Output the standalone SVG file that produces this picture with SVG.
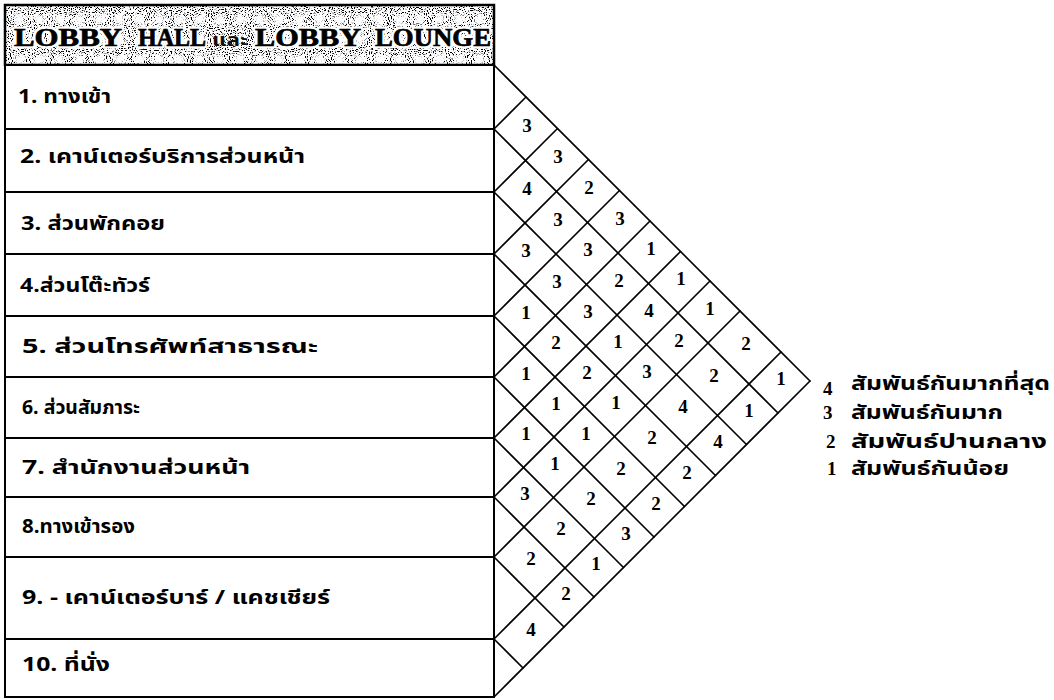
<svg xmlns="http://www.w3.org/2000/svg" width="1054" height="700" viewBox="0 0 1054 700">
<defs>
<style>
.lbl{font-family:"Noto Sans Thai","Noto Serif Thai","Tlwg Typo","Garuda","Loma","DejaVu Sans",sans-serif;font-weight:bold;font-size:20px;fill:#000}
.lg{font-size:19px}
.num{font-family:"Liberation Serif","DejaVu Serif",serif;font-weight:bold;font-size:19px;fill:#000;text-anchor:middle}
.lnum{font-family:"Liberation Serif","DejaVu Serif",serif;font-weight:bold;font-size:19px;fill:#000}
.hd{font-family:"Liberation Serif","DejaVu Serif",serif;font-weight:bold;font-size:25px;fill:#000;stroke:#000;stroke-width:0.7}
.halo{fill:#fff;stroke:#fff;stroke-width:5;stroke-linejoin:round}
.hdt{font-family:"Noto Sans Thai","Noto Serif Thai","DejaVu Sans",sans-serif;font-weight:bold;font-size:18px;fill:#111}
.row{fill:#fff;stroke:#000;stroke-width:2}
.grid{fill:none;stroke:#000;stroke-width:1.6;stroke-linecap:round}
</style>
<filter id="noise" x="0" y="0" width="100%" height="100%">
<feTurbulence type="fractalNoise" baseFrequency="0.95" numOctaves="1" seed="7" result="t"/>
<feColorMatrix in="t" type="matrix" values="0 0 0 0 0  0 0 0 0 0  0 0 0 0 0  0 0 0 -10 4.55" result="d"/>
<feFlood flood-color="#ffffff" result="bg"/>
<feComposite in="d" in2="bg" operator="over"/>
</filter>
</defs>
<rect width="1054" height="700" fill="#fff"/>

<g id="header">
<rect x="5" y="5" width="489" height="60" fill="#fff" filter="url(#noise)"/>
<rect x="5" y="5" width="489" height="60" fill="none" stroke="#000" stroke-width="2.5"/>
<g class="halo" font-family="Liberation Serif, serif" font-weight="bold" font-size="25">
<text x="14" y="46" textLength="108" lengthAdjust="spacingAndGlyphs">LOBBY</text>
<text x="138" y="46" textLength="68" lengthAdjust="spacingAndGlyphs">HALL</text>
<text x="255" y="46" textLength="106" lengthAdjust="spacingAndGlyphs">LOBBY</text>
<text x="375" y="46" textLength="116" lengthAdjust="spacingAndGlyphs">LOUNGE</text>
</g>
<text class="hd" x="14" y="46" textLength="108" lengthAdjust="spacingAndGlyphs">LOBBY</text>
<text class="hd" x="138" y="46" textLength="68" lengthAdjust="spacingAndGlyphs">HALL</text>
<text class="hdt" x="212" y="46" textLength="36" lengthAdjust="spacingAndGlyphs">และ</text>
<text class="hd" x="255" y="46" textLength="106" lengthAdjust="spacingAndGlyphs">LOBBY</text>
<text class="hd" x="375" y="46" textLength="116" lengthAdjust="spacingAndGlyphs">LOUNGE</text>
</g>

<g id="row1"><rect class="row" x="5" y="65" width="489" height="64"/><text class="lbl" x="18" y="103" textLength="93" lengthAdjust="spacingAndGlyphs">1. ทางเข้า</text></g>
<g id="row2"><rect class="row" x="5" y="129" width="489" height="63"/><text class="lbl" x="20" y="163" textLength="285" lengthAdjust="spacingAndGlyphs">2. เคาน์เตอร์บริการส่วนหน้า</text></g>
<g id="row3"><rect class="row" x="5" y="192" width="489" height="62"/><text class="lbl" x="21" y="230" textLength="144" lengthAdjust="spacingAndGlyphs">3. ส่วนพักคอย</text></g>
<g id="row4"><rect class="row" x="5" y="254" width="489" height="62"/><text class="lbl" x="20" y="292" textLength="130" lengthAdjust="spacingAndGlyphs">4.ส่วนโต๊ะทัวร์</text></g>
<g id="row5"><rect class="row" x="5" y="316" width="489" height="61"/><text class="lbl" x="22" y="353" textLength="296" lengthAdjust="spacingAndGlyphs">5. ส่วนโทรศัพท์สาธารณะ</text></g>
<g id="row6"><rect class="row" x="5" y="377" width="489" height="61"/><text class="lbl" x="22" y="414" textLength="118" lengthAdjust="spacingAndGlyphs">6. ส่วนสัมภาระ</text></g>
<g id="row7"><rect class="row" x="5" y="438" width="489" height="59"/><text class="lbl" x="22" y="474" textLength="228" lengthAdjust="spacingAndGlyphs">7. สำนักงานส่วนหน้า</text></g>
<g id="row8"><rect class="row" x="5" y="497" width="489" height="60"/><text class="lbl" x="22" y="533" textLength="113" lengthAdjust="spacingAndGlyphs">8.ทางเข้ารอง</text></g>
<g id="row9"><rect class="row" x="5" y="557" width="489" height="82"/><text class="lbl" x="22" y="604" textLength="308" lengthAdjust="spacingAndGlyphs">9. - เคาน์เตอร์บาร์ / แคชเชียร์</text></g>
<g id="row10"><rect class="row" x="5" y="639" width="489" height="58"/><text class="lbl" x="22" y="671" textLength="88" lengthAdjust="spacingAndGlyphs">10. ที่นั่ง</text></g>

<g id="connectors">
<path class="grid" d="M494,65 L810,381 M494,129 L778,413 M494,192 L746.5,444.5 M494,254 L715.5,475.5 M494,316 L684.5,506.5 M494,377 L654,537 M494,438 L623.5,567.5 M494,497 L594,597 M494,557 L564,627 M494,639 L523,668"/>
<path class="grid" d="M494,129 L526,97 M494,192 L557.5,128.5 M494,254 L588.5,159.5 M494,316 L619.5,190.5 M494,377 L650,221 M494,438 L680.5,251.5 M494,497 L710,281 M494,557 L740,311 M494,639 L781,352 M494,697 L810,381"/>
</g>

<g id="matrix-values">
<text class="num" x="527" y="132">3</text>
<text class="num" x="558" y="163">3</text>
<text class="num" x="589" y="194">2</text>
<text class="num" x="620" y="225">3</text>
<text class="num" x="651" y="255">1</text>
<text class="num" x="681" y="285">1</text>
<text class="num" x="710" y="315">1</text>
<text class="num" x="746" y="350">2</text>
<text class="num" x="781" y="385">1</text>

<text class="num" x="527" y="195">4</text>
<text class="num" x="558" y="226">3</text>
<text class="num" x="588" y="256">3</text>
<text class="num" x="619" y="287">2</text>
<text class="num" x="649" y="317">4</text>
<text class="num" x="679" y="347">2</text>
<text class="num" x="714" y="382">2</text>
<text class="num" x="749" y="417">1</text>

<text class="num" x="526" y="257">3</text>
<text class="num" x="557" y="288">3</text>
<text class="num" x="588" y="318">3</text>
<text class="num" x="618" y="348">1</text>
<text class="num" x="647" y="378">3</text>
<text class="num" x="683" y="413">4</text>
<text class="num" x="718" y="448">4</text>

<text class="num" x="526" y="319">1</text>
<text class="num" x="556" y="349">2</text>
<text class="num" x="587" y="379">2</text>
<text class="num" x="616" y="409">1</text>
<text class="num" x="652" y="444">2</text>
<text class="num" x="687" y="479">2</text>

<text class="num" x="526" y="380">1</text>
<text class="num" x="556" y="410">1</text>
<text class="num" x="586" y="440">1</text>
<text class="num" x="621" y="475">2</text>
<text class="num" x="656" y="510">2</text>

<text class="num" x="526" y="440">1</text>
<text class="num" x="555" y="470">1</text>
<text class="num" x="591" y="505">2</text>
<text class="num" x="626" y="540">3</text>

<text class="num" x="525" y="500">3</text>
<text class="num" x="561" y="535">2</text>
<text class="num" x="596" y="570">1</text>

<text class="num" x="531" y="565">2</text>
<text class="num" x="566" y="600">2</text>

<text class="num" x="531" y="636">4</text>
</g>

<g id="legend">
<text class="lnum" x="823" y="395">4</text><text class="lbl lg" x="851" y="390" textLength="199" lengthAdjust="spacingAndGlyphs">สัมพันธ์กันมากที่สุด</text>
<text class="lnum" x="823" y="419">3</text><text class="lbl lg" x="851" y="419" textLength="152" lengthAdjust="spacingAndGlyphs">สัมพันธ์กันมาก</text>
<text class="lnum" x="826" y="448">2</text><text class="lbl lg" x="851" y="448" textLength="196" lengthAdjust="spacingAndGlyphs">สัมพันธ์ปานกลาง</text>
<text class="lnum" x="827" y="475">1</text><text class="lbl lg" x="851" y="475" textLength="158" lengthAdjust="spacingAndGlyphs">สัมพันธ์กันน้อย</text>
</g>
</svg>
